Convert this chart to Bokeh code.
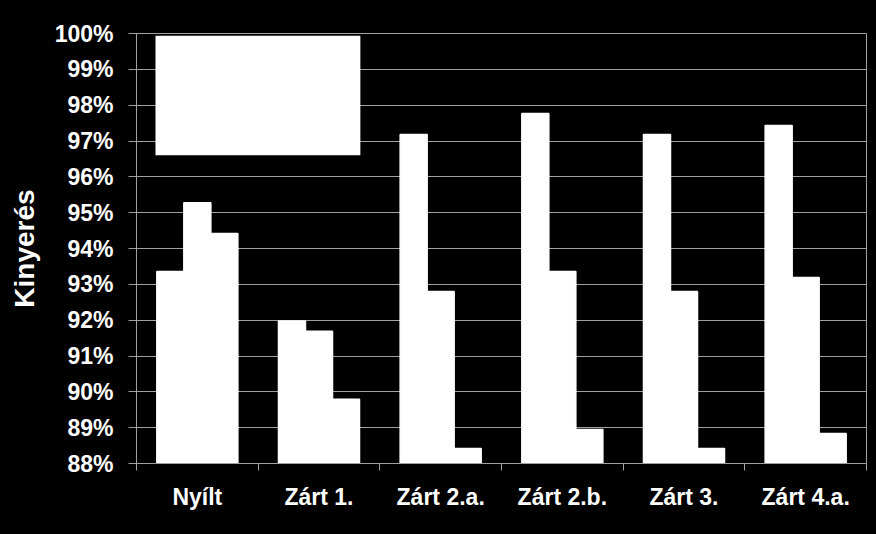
from bokeh.plotting import figure
from bokeh.models import (Range1d, FixedTicker, NumeralTickFormatter, BoxAnnotation)
from bokeh.embed import file_html
from bokeh.resources import INLINE

categories = ["Nyílt", "Zárt 1.", "Zárt 2.a.", "Zárt 2.b.", "Zárt 3.", "Zárt 4.a."]
series_1 = [0.9336, 0.9198, 0.9718, 0.9777, 0.9718, 0.9743]
series_2 = [0.9528, 0.9169, 0.9280, 0.9336, 0.9280, 0.9319]
series_3 = [0.9442, 0.8979, 0.8842, 0.8895, 0.8842, 0.8884]
y_ticks = [0.88, 0.89, 0.90, 0.91, 0.92, 0.93, 0.94, 0.95, 0.96, 0.97, 0.98, 0.99, 1.00]

FONT = "Liberation Sans"
GRID = "#a0a0a0"

p = figure(width=870, height=518, output_backend="svg", toolbar_location=None,
           x_range=Range1d(0, len(categories)), y_range=Range1d(0.88, 1.0),
           min_border_left=136, min_border_right=4, min_border_top=33,
           min_border_bottom=55, background_fill_color="black",
           border_fill_color="black", outline_line_color=GRID)

centers = [i + 0.5 for i in range(len(categories))]
bw = 0.222
for offset, vals in zip([-bw, 0, bw], [series_1, series_2, series_3]):
    p.vbar(x=[c + offset for c in centers], top=vals, bottom=0.88, width=bw,
           fill_color="white", line_color="white", line_width=1.5)

# legend box (empty in the original)
p.add_layout(BoxAnnotation(left=0.156, right=1.84, bottom=0.966, top=0.9994,
                           fill_color="white", fill_alpha=1, line_color=None))

# x axis: labels at centers, ticks at boundaries
xa = p.xaxis[0]
xa.ticker = FixedTicker(ticks=centers, minor_ticks=list(range(len(categories) + 1)))
xa.major_label_overrides = {c: name for c, name in zip(centers, categories)}
xa.major_tick_line_color = None
xa.minor_tick_line_color = GRID
xa.minor_tick_out = 7
xa.minor_tick_in = 0
xa.axis_line_color = GRID
xa.major_label_text_color = "white"
xa.major_label_text_font = FONT
xa.major_label_text_font_style = "bold"
xa.major_label_text_font_size = "23px"
xa.major_label_standoff = 13

ya = p.yaxis[0]
ya.ticker = FixedTicker(ticks=y_ticks, minor_ticks=[])
ya.formatter = NumeralTickFormatter(format="0%")
ya.axis_line_color = GRID
ya.major_tick_line_color = GRID
ya.major_tick_out = 8
ya.major_tick_in = 0
ya.major_label_text_color = "white"
ya.major_label_text_font = FONT
ya.major_label_text_font_style = "bold"
ya.major_label_text_font_size = "23px"
ya.major_label_standoff = 15
ya.axis_label = "Kinyerés"
ya.axis_label_text_color = "white"
ya.axis_label_text_font = FONT
ya.axis_label_text_font_style = "bold"
ya.axis_label_text_font_size = "28px"
ya.axis_label_standoff = 12

p.xgrid.grid_line_color = None
p.ygrid.grid_line_color = GRID
p.ygrid.ticker = FixedTicker(ticks=y_ticks)

html = file_html(p, INLINE)
html = html.replace("<head>", "<head><style>html,body{background:#000;}</style>", 1)
open("out.html", "w").write(html)
